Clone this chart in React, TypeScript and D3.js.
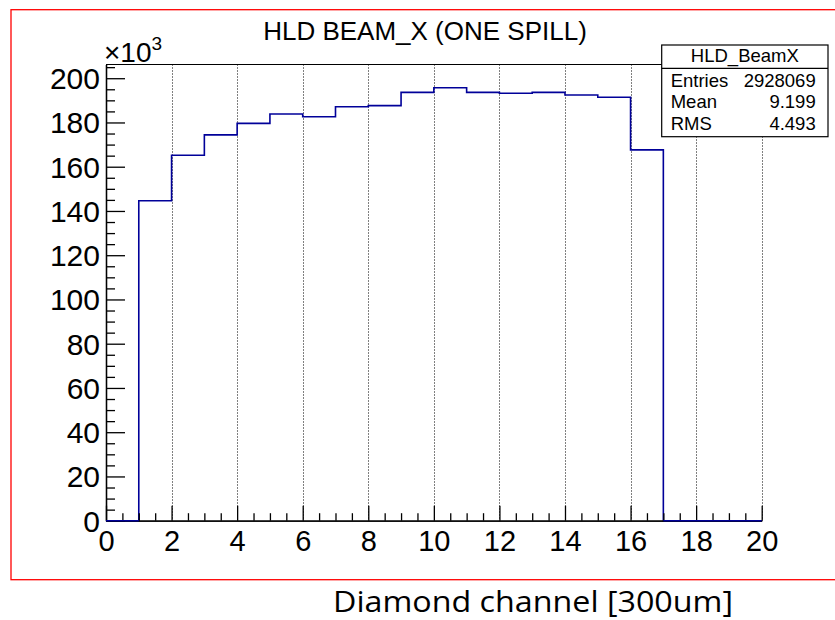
import React, { useEffect, useRef } from "react";
import * as d3 from "d3";

// Bin edges (channel), counts in thousands
const binEdges = [0, 1, 2, 3, 4, 5, 6, 7, 8, 9, 10, 11, 12, 13, 14, 15, 16, 17, 18, 19, 20];
const binCounts = [0, 144.6, 165.2, 174.4, 179.6, 183.8, 182.6, 187.1, 187.6, 193.6, 195.7, 193.6, 193.2, 193.6, 192.4, 191.4, 167.6, 0, 0, 0];
const xMajorTicks = [0, 2, 4, 6, 8, 10, 12, 14, 16, 18, 20];
const yMajorTicks = [0, 20, 40, 60, 80, 100, 120, 140, 160, 180, 200];
const titleText = "HLD BEAM_X (ONE SPILL)";
const xAxisLabel = "Diamond channel [300um]";
const statsName = "HLD_BeamX";
const statsRows = [
  ["Entries", "2928069"],
  ["Mean", "9.199"],
  ["RMS", "4.493"],
];

const W = 835;
const H = 620;
const pLeft = 106;
const pRight = 761.7;
const pTop = 64.5;
const pBottom = 520.7;
const ROOTFONT = "'Liberation Sans', Arial, Helvetica, sans-serif";

export default function App() {
  const ref = useRef<SVGSVGElement | null>(null);

  useEffect(() => {
    const svg = d3.select(ref.current);
    svg.selectAll("*").remove();

    const x = d3.scaleLinear().domain([0, 20]).range([pLeft, pRight]);
    const y = d3.scaleLinear().domain([0, 206.2]).range([pBottom, pTop]);

    svg.append("rect").attr("width", W).attr("height", H).attr("fill", "#fff");
    svg
      .append("rect")
      .attr("x", 11)
      .attr("y", 9.7)
      .attr("width", W + 20)
      .attr("height", 570)
      .attr("fill", "none")
      .attr("stroke", "#ff0000")
      .attr("stroke-width", 1.3);

    svg
      .append("text")
      .attr("x", 425)
      .attr("y", 40)
      .attr("text-anchor", "middle")
      .attr("font-family", ROOTFONT)
      .attr("font-size", 26)
      .text(titleText);

    // grid
    svg
      .append("g")
      .selectAll("line")
      .data(xMajorTicks.filter((v) => v > 0))
      .join("line")
      .attr("x1", (v) => Math.round(x(v)) + 0.5)
      .attr("x2", (v) => Math.round(x(v)) + 0.5)
      .attr("y1", pTop)
      .attr("y2", pBottom)
      .attr("stroke", "#000")
      .attr("stroke-width", 1)
      .attr("stroke-dasharray", "1,2");

    svg
      .append("line")
      .attr("x1", pLeft)
      .attr("x2", pRight)
      .attr("y1", pTop)
      .attr("y2", pTop)
      .attr("stroke", "#000");

    // histogram
    const pts: [number, number][] = [];
    binCounts.forEach((c, i) => {
      pts.push([binEdges[i], c]);
      pts.push([binEdges[i + 1], c]);
    });
    const stepLine = d3
      .line<[number, number]>()
      .x((d) => x(d[0]))
      .y((d) => y(d[1]));
    svg
      .append("path")
      .attr("d", stepLine(pts))
      .attr("fill", "none")
      .attr("stroke", "#000099")
      .attr("stroke-width", 1.6);

    const xMinor = d3.range(0, 20.001, 0.5).filter((v) => !xMajorTicks.includes(v));
    const yMinor = d3.range(0, 206, 5).filter((v) => !yMajorTicks.includes(v));

    // x axis: major, minor (inward ticks)
    const styleAxis = (g: any) => {
      g.selectAll("path.domain").attr("stroke", "#000").attr("stroke-width", 1.3);
      g.selectAll(".tick line").attr("stroke", "#000").attr("stroke-width", 1.3);
      g.selectAll("text").attr("font-family", ROOTFONT).attr("fill", "#000");
    };

    const gxMinor = svg
      .append("g")
      .attr("transform", `translate(0,${pBottom})`)
      .call(d3.axisBottom(x).tickValues(xMinor).tickSize(-7.5).tickSizeOuter(0).tickFormat(() => ""));
    styleAxis(gxMinor);
    const gx = svg
      .append("g")
      .attr("transform", `translate(0,${pBottom})`)
      .call(
        d3
          .axisBottom(x)
          .tickValues(xMajorTicks)
          .tickSize(-15)
          .tickSizeOuter(0)
          .tickPadding(0)
          .tickFormat(d3.format("d"))
      );
    styleAxis(gx);
    gx.selectAll("text").attr("font-size", 29).attr("y", 30).attr("dy", 0);

    const gyMinor = svg
      .append("g")
      .attr("transform", `translate(${pLeft},0)`)
      .call(d3.axisLeft(y).tickValues(yMinor).tickSize(-9).tickSizeOuter(0).tickFormat(() => ""));
    styleAxis(gyMinor);
    const gy = svg
      .append("g")
      .attr("transform", `translate(${pLeft},0)`)
      .call(
        d3
          .axisLeft(y)
          .tickValues(yMajorTicks)
          .tickSize(-19)
          .tickSizeOuter(0)
          .tickPadding(0)
          .tickFormat(d3.format("d"))
      );
    styleAxis(gy);
    gy.selectAll("text").attr("font-size", 30).attr("x", -6).attr("dy", "0.35em");

    // blue zero-level segments over axis
    svg
      .append("path")
      .attr("d", stepLine([[0, 0], [1, 0]]))
      .attr("stroke", "#000099")
      .attr("stroke-width", 1.6)
      .attr("fill", "none");
    svg
      .append("path")
      .attr("d", stepLine([[17, 0], [20, 0]]))
      .attr("stroke", "#000099")
      .attr("stroke-width", 1.6)
      .attr("fill", "none");

    // exponent
    const ex = svg
      .append("text")
      .attr("x", 104)
      .attr("y", 62)
      .attr("font-family", ROOTFONT)
      .attr("font-size", 28)
      .text("×10");
    ex.append("tspan").attr("font-size", 19).attr("dy", -12).text("3");

    // stats box
    const boxL = 661.7;
    const boxR = 828;
    const boxT = 45;
    const boxSep = 68.3;
    const boxB = 136.7;
    svg
      .append("rect")
      .attr("x", boxL)
      .attr("y", boxT)
      .attr("width", boxR - boxL)
      .attr("height", boxB - boxT)
      .attr("fill", "#fff")
      .attr("stroke", "#000")
      .attr("stroke-width", 1.2);
    svg
      .append("line")
      .attr("x1", boxL)
      .attr("x2", boxR)
      .attr("y1", boxSep)
      .attr("y2", boxSep)
      .attr("stroke", "#000")
      .attr("stroke-width", 1.2);
    svg
      .append("text")
      .attr("x", (boxL + boxR) / 2)
      .attr("y", 61.7)
      .attr("text-anchor", "middle")
      .attr("font-family", ROOTFONT)
      .attr("font-size", 18.5)
      .text(statsName);
    statsRows.forEach((r, i) => {
      svg
        .append("text")
        .attr("x", 670.7)
        .attr("y", 86.7 + i * 21.7)
        .attr("font-family", ROOTFONT)
        .attr("font-size", 18.5)
        .text(r[0]);
      svg
        .append("text")
        .attr("x", 815.7)
        .attr("y", 86.7 + i * 21.7)
        .attr("text-anchor", "end")
        .attr("font-family", ROOTFONT)
        .attr("font-size", 18.5)
        .text(r[1]);
    });

    svg
      .append("text")
      .attr("x", 333)
      .attr("y", 612)
      .attr("font-family", "'Open Sans', Lato, sans-serif")
      .attr("font-size", 30)
      .attr("textLength", 400)
      .attr("lengthAdjust", "spacingAndGlyphs")
      .text(xAxisLabel);
  }, []);

  return (
    <svg
      ref={ref}
      width={W}
      height={H}
      style={{ position: "absolute", left: 0, top: 0, background: "#fff" }}
    />
  );
}
